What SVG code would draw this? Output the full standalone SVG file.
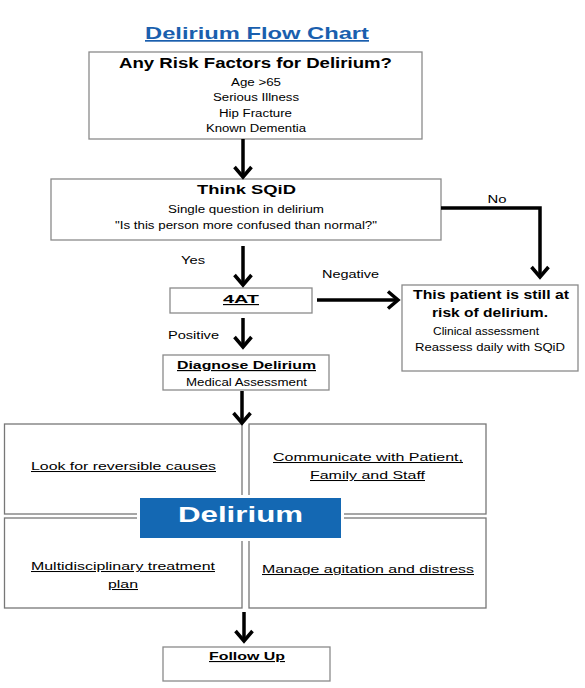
<svg xmlns="http://www.w3.org/2000/svg" width="585" height="688" viewBox="0 0 585 688">
<defs>
<style>
text{font-family:"Liberation Sans",Arial,sans-serif;fill:#000;text-anchor:middle}
.b{font-weight:bold}
.u{text-decoration:underline}
.box{fill:#fff;stroke:#8a8a8a;stroke-width:1.3}
.q{fill:#fff;stroke:#777;stroke-width:1.3}
.con{fill:none;stroke:#000;stroke-width:3.5}
.s{font-size:10px}
.lbl{font-size:10px}
.qt{font-size:10.3px}
</style>
<marker id="ah" markerUnits="userSpaceOnUse" markerWidth="24" markerHeight="24" viewBox="-12 -12 24 24" refX="0" refY="0" orient="auto" overflow="visible">
<path d="M-10,-8.5 L0,0 L-10,8.5" fill="none" stroke="#000" stroke-width="3.5" stroke-linejoin="miter"/>
</marker>
</defs>
<rect width="585" height="688" fill="#fff"/>
<g id="title">
<text x="257" y="39" class="b u" font-size="17" style="fill:#1a5fae" textLength="224" lengthAdjust="spacingAndGlyphs">Delirium Flow Chart</text>
</g>
<g id="risk">
<rect class="box" x="89" y="52" width="333" height="87"/>
<text x="255.5" y="68" class="b" font-size="14" textLength="273" lengthAdjust="spacingAndGlyphs">Any Risk Factors for Delirium?</text>
<text x="256" y="86" class="s" textLength="50" lengthAdjust="spacingAndGlyphs">Age &gt;65</text>
<text x="256" y="101" class="s" textLength="86" lengthAdjust="spacingAndGlyphs">Serious Illness</text>
<text x="255.5" y="117" class="s" textLength="73" lengthAdjust="spacingAndGlyphs">Hip Fracture</text>
<text x="256" y="132" class="s" textLength="100" lengthAdjust="spacingAndGlyphs">Known Dementia</text>
</g>
<g id="sqid">
<rect class="box" x="51" y="179" width="390" height="61"/>
<text x="246.5" y="194" class="b" font-size="12.5" textLength="99" lengthAdjust="spacingAndGlyphs">Think SQiD</text>
<text x="246" y="213" class="s" textLength="156" lengthAdjust="spacingAndGlyphs">Single question in delirium</text>
<text x="246" y="229" class="s" textLength="262" lengthAdjust="spacingAndGlyphs">"Is this person more confused than normal?"</text>
</g>
<g id="fourat">
<rect class="box" x="170" y="288" width="142" height="25"/>
<text x="241" y="303" class="b u" font-size="11.7" textLength="36" lengthAdjust="spacingAndGlyphs">4AT</text>
</g>
<g id="risk-still">
<rect class="box" x="402" y="285" width="176" height="86"/>
<text x="491" y="299" class="b" font-size="12.5" textLength="156" lengthAdjust="spacingAndGlyphs">This patient is still at</text>
<text x="490" y="317" class="b" font-size="12.5" textLength="116" lengthAdjust="spacingAndGlyphs">risk of delirium.</text>
<text x="486" y="335" class="s" textLength="106" lengthAdjust="spacingAndGlyphs">Clinical assessment</text>
<text x="490" y="351" class="s" textLength="150" lengthAdjust="spacingAndGlyphs">Reassess daily with SQiD</text>
</g>
<g id="diagnose">
<rect class="box" x="163" y="355" width="166" height="35"/>
<text x="246.5" y="369" class="b u" font-size="11.7" textLength="139" lengthAdjust="spacingAndGlyphs">Diagnose Delirium</text>
<text x="246.5" y="386" class="s" textLength="121" lengthAdjust="spacingAndGlyphs">Medical Assessment</text>
</g>
<g id="q-reversible">
<rect class="q" x="4.5" y="424" width="237.5" height="90"/>
<text x="123.5" y="470" class="qt u" textLength="185" lengthAdjust="spacingAndGlyphs">Look for reversible causes</text>
</g>
<g id="q-communicate">
<rect class="q" x="249" y="424" width="237" height="90"/>
<text x="368" y="461" class="qt u" textLength="190" lengthAdjust="spacingAndGlyphs">Communicate with Patient,</text>
<text x="367.5" y="479" class="qt u" textLength="115" lengthAdjust="spacingAndGlyphs">Family and Staff</text>
</g>
<g id="q-multidisciplinary">
<rect class="q" x="4.5" y="518" width="237.5" height="90"/>
<text x="123" y="570" class="qt u" textLength="184" lengthAdjust="spacingAndGlyphs">Multidisciplinary treatment</text>
<text x="123" y="588" class="qt u" textLength="30" lengthAdjust="spacingAndGlyphs">plan</text>
</g>
<g id="q-agitation">
<rect class="q" x="249" y="518" width="237" height="90"/>
<text x="368" y="573" class="qt u" textLength="212" lengthAdjust="spacingAndGlyphs">Manage agitation and distress</text>
</g>
<g id="delirium">
<rect x="140" y="498" width="201" height="40" fill="#1468b3" stroke="#fff" stroke-width="6" paint-order="stroke"/>
<rect x="140" y="498" width="201" height="40" fill="#1468b3"/>
<text x="240.5" y="522" class="b" font-size="22" style="fill:#fff" textLength="125" lengthAdjust="spacingAndGlyphs">Delirium</text>
</g>
<g id="followup">
<rect class="box" x="163" y="647" width="167" height="34"/>
<text x="247" y="660" class="b u" font-size="11" textLength="76" lengthAdjust="spacingAndGlyphs">Follow Up</text>
</g>
<g id="connectors">
<line class="con" x1="243" y1="139" x2="243" y2="177" marker-end="url(#ah)"/>
<line class="con" x1="243" y1="246" x2="243" y2="285" marker-end="url(#ah)"/>
<polyline class="con" points="441,208 540,208 540,277" marker-end="url(#ah)"/>
<line class="con" x1="317" y1="300" x2="398" y2="300" marker-end="url(#ah)"/>
<line class="con" x1="243" y1="318" x2="243" y2="347" marker-end="url(#ah)"/>
<line class="con" x1="242" y1="391" x2="242" y2="423" marker-end="url(#ah)"/>
<line class="con" x1="244" y1="612" x2="244" y2="641" marker-end="url(#ah)"/>
<text x="497" y="203" class="lbl" textLength="19" lengthAdjust="spacingAndGlyphs">No</text>
<text x="193" y="264" class="lbl" textLength="24" lengthAdjust="spacingAndGlyphs">Yes</text>
<text x="350.5" y="278" class="lbl" textLength="57" lengthAdjust="spacingAndGlyphs">Negative</text>
<text x="193.5" y="339" class="lbl" textLength="51" lengthAdjust="spacingAndGlyphs">Positive</text>
</g>
</svg>
